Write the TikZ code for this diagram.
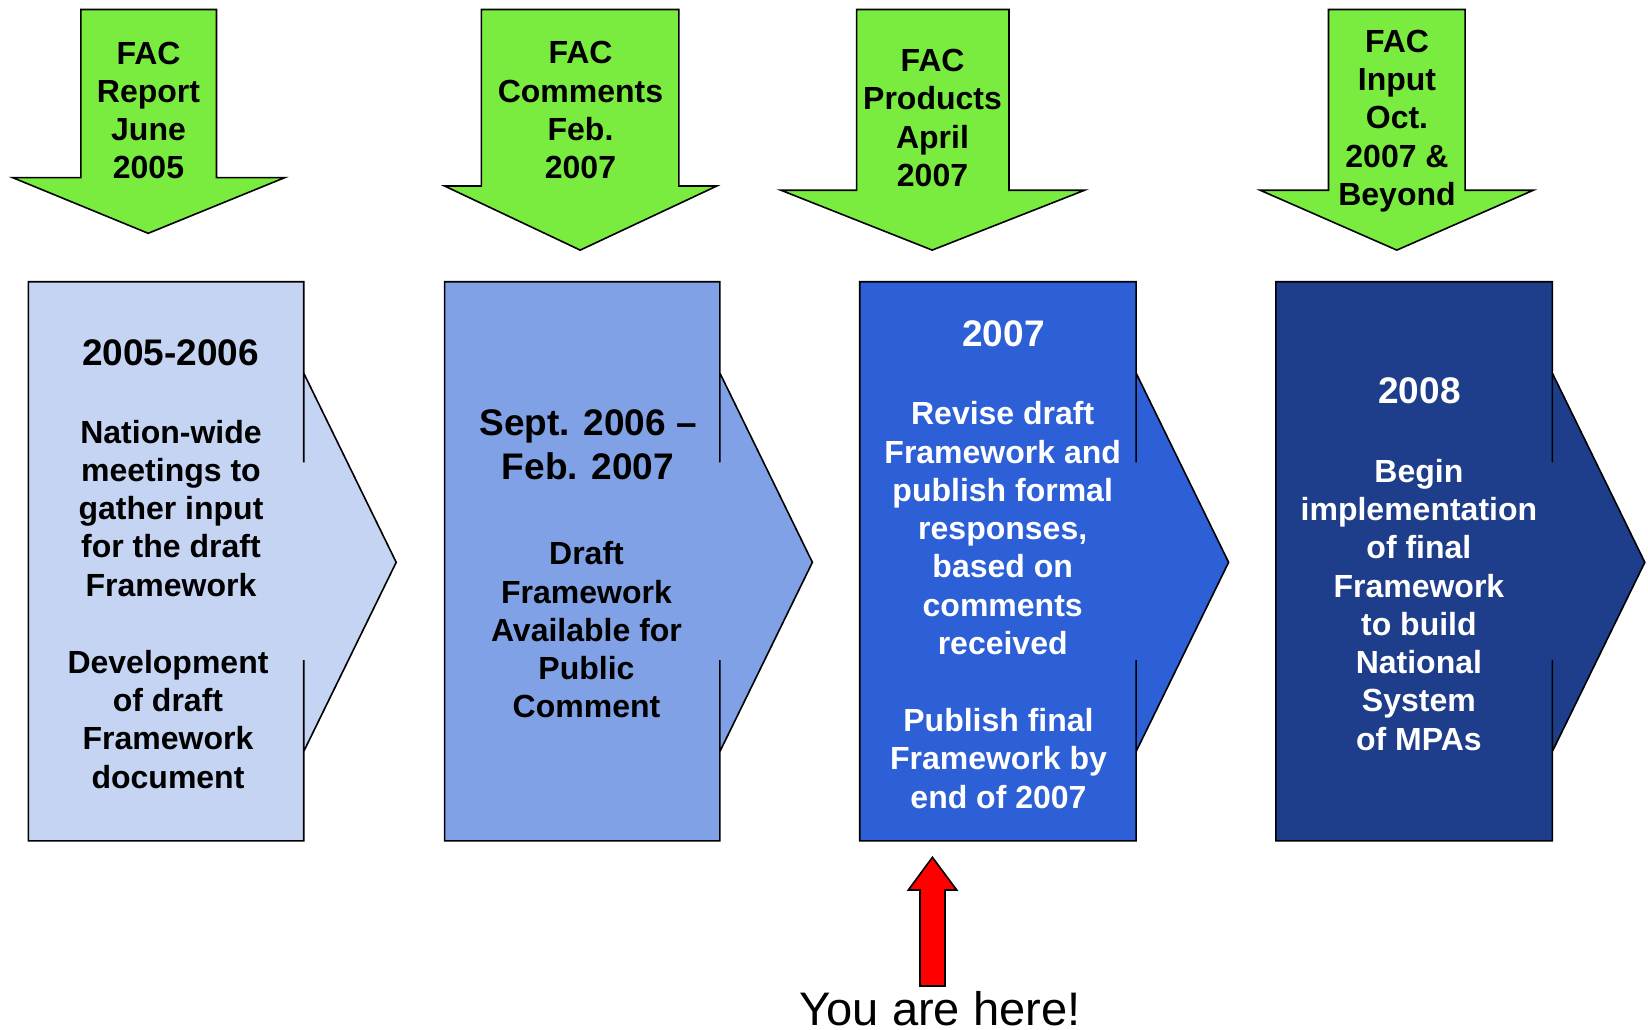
\documentclass[tikz,border=0pt]{standalone}
\usepackage{fontspec}
\setmainfont{Liberation Sans}
\definecolor{cgreen}{RGB}{122,236,64}
\definecolor{cboxa}{RGB}{197,212,242}
\definecolor{cboxb}{RGB}{128,161,229}
\definecolor{cboxc}{RGB}{45,95,214}
\definecolor{cboxd}{RGB}{30,62,140}
\definecolor{cred}{RGB}{255,0,0}
% callout box: left, right, tip x, fill colour
\newcommand{\mycallout}[4]{%
  \path[shapeline, fill=#4] (#1,281.7) -- (#2,281.7) -- (#2,462.4) -- (#2,373.1)
    -- (#3,562.3) -- (#2,751.5) -- (#2,660) -- (#2,840.8) -- (#1,840.8) -- cycle;}
% down arrow: shaft left, shaft right, shoulder y, head left, head right, tip x, tip y
\newcommand{\mydownarrow}[7]{%
  \path[shapeline, fill=cgreen] (#1,9.5) -- (#2,9.5) -- (#2,#3) -- (#5,#3)
    -- (#6,#7) -- (#4,#3) -- (#1,#3) -- cycle;}
\begin{document}
\begin{tikzpicture}[x=0.75pt,y=-0.75pt,
  shapeline/.style={draw=black,line width=1.2pt,line join=miter},
  txt/.style={align=center,inner sep=0pt,font=\bfseries\fontsize{24}{28.7}\selectfont},
  hdr/.style={align=center,inner sep=0pt,font=\bfseries\fontsize{27.75}{33}\selectfont},
  whitetxt/.style={text=white}]
\useasboundingbox (0,0) rectangle (1648,1029);
\fill[white] (0,0) rectangle (1648,1029);

% green arrows
\mydownarrow{80.9}{216.5}{177.6}{12.6}{284.8}{148.2}{233.3}
\mydownarrow{481.4}{678.9}{186}{444.6}{716.8}{580.2}{250.1}
\mydownarrow{856.6}{1009}{190.2}{780.9}{1084.6}{932.2}{250.1}
\mydownarrow{1328.5}{1465.1}{190.2}{1260.1}{1533.4}{1396.8}{250.1}

\node[txt] (faca) at (148.5,110.4) {FAC\\Report\\June\\2005};
\node[txt] (facb) at (580.5,110.3) {FAC\\Comments\\Feb.\\2007};
\node[txt] (facc) at (932.5,118) {FAC\\Products\\April\\2007};
\node[txt] (facd) at (1397,121) {FAC\\Input\\Oct.\\2007 \&\\Beyond};

% callout boxes
\mycallout{28.4}{303.7}{396.2}{cboxa}
\mycallout{444.6}{719.9}{812.4}{cboxb}
\mycallout{859.7}{1136.1}{1228.6}{cboxc}
\mycallout{1275.9}{1552.3}{1644.8}{cboxd}

% box 1
\node[hdr] (hdra) at (170.5,352.5) {2005-2006};
\node[txt] (bodya) at (171,508.2) {Nation-wide\\meetings to\\gather input\\for the draft\\Framework};
\node[txt] (bodyaa) at (168,719.4) {Development\\of draft\\Framework\\document};

% box 2
\node[hdr] (hdrb) at (588,444.6) {Sept. 2006 –\\Feb. 2007};
\node[txt] (bodyb) at (586.5,630) {Draft\\Framework\\Available for\\Public\\Comment};

% box 3
\node[hdr,whitetxt] (hdrc) at (1003.5,334) {2007};
\node[txt,whitetxt] (bodyc) at (1002.7,528.1) {Revise draft\\Framework and\\publish formal\\responses,\\based on\\comments\\received};
\node[txt,whitetxt] (bodycc) at (998.5,758.5) {Publish final\\Framework by\\end of 2007};

% box 4
\node[hdr,whitetxt] (hdrd) at (1419.5,390.5) {2008};
\node[txt,whitetxt] (bodyd) at (1418.9,604.8) {Begin\\implementation\\of final\\Framework\\to build\\National\\System\\of MPAs};

% red arrow and label
\path[shapeline, fill=cred] (920,986) -- (920,890) -- (908.3,890) -- (932.4,857.3)
  -- (956.7,890) -- (945,890) -- (945,986) -- cycle;
\node[inner sep=0pt,anchor=base,font=\fontsize{35.3}{42}\selectfont] (here) at (940,1025) {You are here!};
\end{tikzpicture}
\end{document}
